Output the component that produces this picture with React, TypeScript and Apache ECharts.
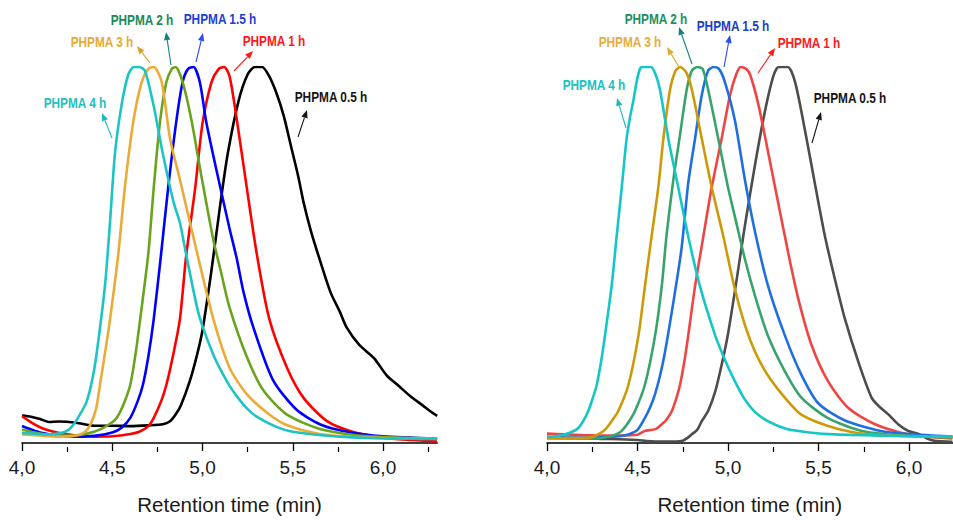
import React, { useEffect, useRef } from "react";
import * as echarts from "echarts";

// ---------- axis settings ----------
const X_MIN = 4.0;
const LEFT_X_MAX = 6.3;
const RIGHT_X_MAX = 6.24;
const majorTicks = [4.0, 4.5, 5.0, 5.5, 6.0];
const minorTicksLeft = [4.25, 4.75, 5.25, 5.75, 6.25];
const minorTicksRight = [4.25, 4.75, 5.25, 5.75];
const xTitle = "Retention time (min)";
const seriesNames = ["PHPMA 0.5 h", "PHPMA 1 h", "PHPMA 1.5 h", "PHPMA 2 h", "PHPMA 3 h", "PHPMA 4 h"];

// ---------- left panel data: [retention time (min), normalised signal] ----------
const left05 = [[4.0,0.073],[4.05,0.07],[4.1,0.064],[4.15,0.056],[4.2,0.057],[4.3,0.054],[4.4,0.046],[4.5,0.046],[4.6,0.045],[4.7,0.047],[4.78,0.05],[4.82,0.058],[4.85,0.075],[4.88,0.1],[4.93,0.165],[4.97,0.235],[5.0,0.3],[5.05,0.46],[5.1,0.64],[5.14,0.77],[5.2,0.91],[5.25,0.98],[5.29,1.0],[5.33,1.0],[5.37,0.975],[5.41,0.93],[5.45,0.87],[5.49,0.79],[5.53,0.71],[5.56,0.64],[5.6,0.565],[5.65,0.487],[5.71,0.4],[5.76,0.35],[5.8,0.306],[5.87,0.26],[5.95,0.226],[6.02,0.18],[6.08,0.155],[6.15,0.125],[6.22,0.1],[6.26,0.085],[6.3,0.072]];
const left1 = [[4.0,0.071],[4.05,0.055],[4.1,0.042],[4.15,0.033],[4.2,0.027],[4.3,0.02],[4.4,0.017],[4.5,0.018],[4.6,0.024],[4.65,0.03],[4.7,0.045],[4.73,0.067],[4.77,0.11],[4.8,0.155],[4.84,0.24],[4.875,0.33],[4.91,0.5],[4.96,0.68],[5.0,0.85],[5.05,0.96],[5.09,0.995],[5.12,1.0],[5.15,0.975],[5.19,0.86],[5.245,0.68],[5.3,0.505],[5.37,0.33],[5.47,0.198],[5.56,0.12],[5.69,0.058],[5.83,0.03],[6.0,0.014],[6.15,0.008],[6.3,0.004]];
const left15 = [[4.0,0.045],[4.05,0.036],[4.1,0.028],[4.2,0.02],[4.3,0.017],[4.4,0.019],[4.5,0.028],[4.55,0.04],[4.6,0.067],[4.64,0.11],[4.67,0.155],[4.7,0.23],[4.73,0.33],[4.77,0.5],[4.81,0.68],[4.855,0.856],[4.89,0.96],[4.92,0.995],[4.95,1.0],[4.985,0.96],[5.02,0.856],[5.08,0.72],[5.15,0.57],[5.19,0.49],[5.226,0.404],[5.28,0.31],[5.39,0.168],[5.52,0.089],[5.65,0.05],[5.8,0.03],[6.0,0.018],[6.3,0.012]];
const left2 = [[4.0,0.036],[4.1,0.025],[4.2,0.02],[4.3,0.02],[4.4,0.03],[4.45,0.04],[4.5,0.055],[4.525,0.067],[4.56,0.1],[4.6,0.155],[4.63,0.24],[4.655,0.33],[4.7,0.505],[4.73,0.68],[4.765,0.856],[4.8,0.96],[4.83,0.995],[4.85,1.0],[4.89,0.96],[4.94,0.856],[4.99,0.72],[5.06,0.54],[5.1,0.46],[5.15,0.36],[5.245,0.23],[5.337,0.14],[5.466,0.076],[5.65,0.037],[5.83,0.022],[6.0,0.016],[6.3,0.012]];
const left3 = [[4.0,0.023],[4.1,0.02],[4.2,0.017],[4.3,0.02],[4.35,0.03],[4.38,0.05],[4.41,0.09],[4.432,0.155],[4.46,0.24],[4.488,0.33],[4.534,0.505],[4.57,0.68],[4.617,0.856],[4.663,0.96],[4.7,0.995],[4.73,1.0],[4.774,0.96],[4.82,0.81],[4.875,0.7],[4.968,0.51],[5.06,0.33],[5.15,0.2],[5.245,0.13],[5.37,0.076],[5.47,0.047],[5.65,0.024],[5.9,0.015],[6.3,0.012]];
const left4 = [[4.0,0.027],[4.1,0.024],[4.15,0.023],[4.2,0.025],[4.24,0.03],[4.27,0.04],[4.31,0.067],[4.358,0.11],[4.39,0.17],[4.414,0.24],[4.46,0.42],[4.488,0.59],[4.515,0.77],[4.552,0.9],[4.589,0.98],[4.62,1.0],[4.65,1.0],[4.681,0.99],[4.728,0.9],[4.78,0.77],[4.84,0.64],[4.875,0.585],[4.91,0.5],[4.97,0.36],[5.0,0.31],[5.06,0.235],[5.1,0.195],[5.15,0.152],[5.2,0.118],[5.25,0.09],[5.3,0.07],[5.4,0.045],[5.5,0.03],[5.83,0.015],[6.3,0.011]];

// ---------- right panel data ----------
const right05 = [[4.0,0.015],[4.1,0.014],[4.2,0.013],[4.3,0.011],[4.4,0.01],[4.5,0.008],[4.55,0.005],[4.6,0.004],[4.7,0.004],[4.75,0.006],[4.78,0.015],[4.8,0.023],[4.83,0.035],[4.855,0.058],[4.89,0.085],[4.93,0.138],[4.965,0.208],[5.0,0.29],[5.04,0.41],[5.094,0.58],[5.15,0.742],[5.204,0.882],[5.25,0.975],[5.28,1.0],[5.33,1.0],[5.37,0.961],[5.426,0.83],[5.48,0.69],[5.536,0.549],[5.591,0.435],[5.646,0.33],[5.72,0.216],[5.794,0.12],[5.84,0.095],[5.886,0.076],[5.94,0.05],[5.996,0.032],[6.05,0.025],[6.1,0.012],[6.14,0.006],[6.24,0.003]];
const right1 = [[4.0,0.025],[4.1,0.023],[4.2,0.021],[4.3,0.02],[4.4,0.02],[4.5,0.022],[4.54,0.032],[4.6,0.037],[4.634,0.05],[4.66,0.062],[4.69,0.085],[4.715,0.12],[4.735,0.155],[4.76,0.22],[4.78,0.285],[4.818,0.417],[4.864,0.55],[4.91,0.68],[4.965,0.81],[5.011,0.925],[5.045,0.98],[5.07,1.0],[5.1,0.995],[5.122,0.98],[5.168,0.9],[5.223,0.77],[5.278,0.637],[5.333,0.505],[5.389,0.382],[5.462,0.26],[5.554,0.163],[5.665,0.093],[5.812,0.05],[5.996,0.023],[6.24,0.012]];
const right15 = [[4.0,0.015],[4.2,0.014],[4.3,0.015],[4.4,0.018],[4.45,0.023],[4.5,0.035],[4.541,0.067],[4.57,0.095],[4.597,0.13],[4.625,0.18],[4.652,0.242],[4.7,0.38],[4.744,0.52],[4.78,0.69],[4.818,0.81],[4.855,0.925],[4.89,0.99],[4.92,1.0],[4.95,0.995],[4.983,0.96],[5.039,0.856],[5.094,0.698],[5.15,0.56],[5.22,0.42],[5.315,0.285],[5.407,0.18],[5.5,0.105],[5.646,0.06],[5.867,0.03],[6.14,0.02],[6.24,0.017]];
const right2 = [[4.0,0.013],[4.2,0.012],[4.3,0.013],[4.35,0.018],[4.39,0.025],[4.413,0.032],[4.45,0.055],[4.486,0.085],[4.541,0.155],[4.597,0.285],[4.634,0.417],[4.66,0.55],[4.698,0.7],[4.735,0.82],[4.772,0.94],[4.8,0.99],[4.83,1.0],[4.86,0.995],[4.89,0.94],[4.946,0.81],[5.0,0.68],[5.039,0.6],[5.094,0.488],[5.15,0.39],[5.22,0.286],[5.315,0.19],[5.407,0.12],[5.55,0.067],[5.74,0.032],[5.96,0.02],[6.24,0.015]];
const right3 = [[4.0,0.013],[4.2,0.013],[4.25,0.016],[4.29,0.025],[4.32,0.035],[4.36,0.06],[4.394,0.085],[4.45,0.155],[4.505,0.285],[4.541,0.417],[4.578,0.55],[4.615,0.68],[4.643,0.81],[4.68,0.94],[4.71,0.99],[4.735,1.0],[4.77,0.985],[4.8,0.94],[4.855,0.81],[4.91,0.68],[4.974,0.55],[5.035,0.415],[5.094,0.313],[5.15,0.242],[5.22,0.18],[5.315,0.12],[5.407,0.075],[5.59,0.04],[5.777,0.023],[6.0,0.018],[6.24,0.016]];
const right4 = [[4.0,0.017],[4.05,0.018],[4.1,0.023],[4.14,0.03],[4.173,0.04],[4.2,0.058],[4.228,0.085],[4.25,0.115],[4.275,0.155],[4.3,0.22],[4.32,0.285],[4.357,0.417],[4.385,0.55],[4.413,0.68],[4.44,0.81],[4.46,0.87],[4.477,0.91],[4.495,0.96],[4.514,0.996],[4.53,1.0],[4.575,1.0],[4.6,0.98],[4.624,0.94],[4.67,0.81],[4.725,0.68],[4.78,0.55],[4.845,0.417],[4.93,0.285],[4.98,0.225],[5.03,0.172],[5.09,0.118],[5.15,0.082],[5.22,0.058],[5.32,0.038],[5.45,0.028],[5.59,0.023],[5.96,0.019],[6.24,0.017]];

const leftData = [left05, left1, left15, left2, left3, left4];
const rightData = [right05, right1, right15, right2, right3, right4];
const leftColors = ["#000000", "#ff0000", "#0000ff", "#6aa41f", "#ebab38", "#1ec4c4"];
const rightColors = ["#4d4d4d", "#f04545", "#1f6fe0", "#38a36b", "#cc9a08", "#14c6c6"];

// ---------- annotations (pixel layout) ----------
const annotations = [
  // left panel
  { text: "PHPMA 4 h", x: 75, y: 103, color: "#22c0c0", arrowColor: "#22b8b8", a: [112, 138, 102, 113] },
  { text: "PHPMA 3 h", x: 102, y: 42, color: "#e8aa38", arrowColor: "#e0a030", a: [150, 63, 137, 46] },
  { text: "PHPMA 2 h", x: 142, y: 20, color: "#1b8a5a", arrowColor: "#168080", a: [171, 65, 166, 32] },
  { text: "PHPMA 1.5 h", x: 220, y: 19, color: "#1c3fd4", arrowColor: "#2a4cf0", a: [196, 62, 203, 33] },
  { text: "PHPMA 1 h", x: 274, y: 41, color: "#ff1a1a", arrowColor: "#ff1a1a", a: [234, 71, 253, 51] },
  { text: "PHPMA 0.5 h", x: 331, y: 97, color: "#151515", arrowColor: "#151515", a: [298, 137, 307, 110] },
  // right panel
  { text: "PHPMA 4 h", x: 594, y: 85, color: "#22c0c0", arrowColor: "#22b8b8", a: [626, 128, 617, 98] },
  { text: "PHPMA 3 h", x: 630, y: 42, color: "#e8ad40", arrowColor: "#e0a838", a: [679, 67, 667, 47] },
  { text: "PHPMA 2 h", x: 656, y: 19, color: "#228f60", arrowColor: "#168080", a: [692, 64, 679, 27] },
  { text: "PHPMA 1.5 h", x: 733, y: 26, color: "#1c3fc4", arrowColor: "#2a4cf0", a: [724, 67, 730, 35] },
  { text: "PHPMA 1 h", x: 809, y: 43, color: "#ff1a1a", arrowColor: "#ff1a1a", a: [758, 73, 775, 48] },
  { text: "PHPMA 0.5 h", x: 850, y: 98, color: "#151515", arrowColor: "#151515", a: [812, 143, 821, 112] },
];

const FONT = '"Liberation Sans", Arial, sans-serif';
const LEFT_GRID = { left: 22, top: 67, width: (LEFT_X_MAX - X_MIN) * 180.5, height: 380 };
const RIGHT_GRID = { left: 547, top: 67, width: (RIGHT_X_MAX - X_MIN) * 181, height: 380 };

function arrow(x1: number, y1: number, x2: number, y2: number, color: string) {
  const dx = x2 - x1, dy = y2 - y1;
  const len = Math.hypot(dx, dy);
  const ux = dx / len, uy = dy / len;
  const hl = 8, hw = 3.2;
  const bx = x2 - ux * hl, by = y2 - uy * hl;
  const px = -uy, py = ux;
  return [
    { type: "line", shape: { x1, y1, x2: bx, y2: by }, style: { stroke: color, lineWidth: 1.1 } },
    { type: "polygon", shape: { points: [[x2, y2], [bx + px * hw, by + py * hw], [bx - px * hw, by - py * hw]] }, style: { fill: color } },
  ];
}

function majorAxis(gridIndex: number, max: number) {
  return {
    type: "value", gridIndex, min: X_MIN, max, interval: 0.5, position: "bottom",
    axisLine: { show: true, lineStyle: { color: "#000", width: 1.6 } },
    axisTick: { show: true, length: 8, customValues: majorTicks, lineStyle: { color: "#000", width: 1.3 } },
    axisLabel: {
      customValues: majorTicks, margin: 15, fontSize: 19, color: "#1a1a1a", fontFamily: FONT,
      formatter: (v: number) => v.toFixed(1).replace(".", ","),
    },
    splitLine: { show: false },
    name: xTitle, nameLocation: "middle", nameGap: 51,
    nameTextStyle: { fontSize: 20.5, color: "#1a1a1a", fontFamily: FONT },
  };
}
function minorAxis(gridIndex: number, max: number, ticks: number[]) {
  return {
    type: "value", gridIndex, min: X_MIN, max, position: "bottom",
    axisLine: { show: false },
    axisTick: { show: true, length: 5, customValues: ticks, lineStyle: { color: "#000", width: 1.2 } },
    axisLabel: { show: false, customValues: ticks },
    splitLine: { show: false },
  };
}

export default function App() {
  const ref = useRef<HTMLDivElement>(null);
  useEffect(() => {
    if (!ref.current) return;
    const chart = echarts.init(ref.current, undefined, { renderer: "svg" });
    const series: any[] = [];
    leftData.forEach((d, i) => series.push({
      name: seriesNames[i], type: "line", xAxisIndex: 0, yAxisIndex: 0, data: d,
      symbol: "none", smooth: 0.25,
      lineStyle: { color: leftColors[i], width: 2.6 }, itemStyle: { color: leftColors[i] },
    }));
    rightData.forEach((d, i) => series.push({
      name: seriesNames[i], type: "line", xAxisIndex: 1, yAxisIndex: 1, data: d,
      symbol: "none", smooth: 0.25,
      lineStyle: { color: rightColors[i], width: 2.6 }, itemStyle: { color: rightColors[i] },
    }));
    const graphics: any[] = [];
    annotations.forEach((a) => {
      graphics.push({
        type: "text", x: a.x, y: a.y, scaleX: 0.79, z: 10,
        style: { text: a.text, fill: a.color, font: 'bold 15px "Liberation Sans", Arial, sans-serif', textAlign: "center", textVerticalAlign: "middle" },
      });
      arrow(a.a[0], a.a[1], a.a[2], a.a[3], a.arrowColor).forEach((g) => graphics.push({ ...g, z: 10 }));
    });
    chart.setOption({
      animation: false,
      backgroundColor: "#ffffff",
      grid: [LEFT_GRID, RIGHT_GRID, LEFT_GRID, RIGHT_GRID],
      xAxis: [
        majorAxis(0, LEFT_X_MAX), majorAxis(1, RIGHT_X_MAX),
        minorAxis(2, LEFT_X_MAX, minorTicksLeft), minorAxis(3, RIGHT_X_MAX, minorTicksRight),
      ],
      yAxis: [0, 1, 2, 3].map((g) => ({ type: "value", gridIndex: g, min: 0, max: 1, show: false })),
      series,
      graphic: graphics,
    });
    return () => chart.dispose();
  }, []);
  return <div ref={ref} style={{ position: "fixed", left: 0, top: 0, width: 953, height: 520 }} />;
}
